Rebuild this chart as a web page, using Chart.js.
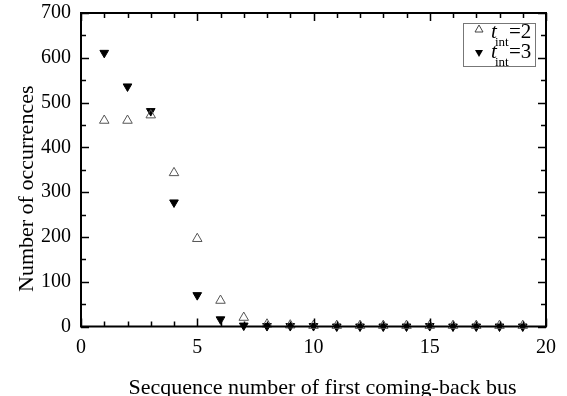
<!DOCTYPE html>
<html>
<head>
<meta charset="utf-8">
<script src="https://cdn.jsdelivr.net/npm/chart.js@4/dist/chart.umd.min.js"></script>
<style>
  html, body { margin: 0; padding: 0; background: #fff; }
  #wrap { width: 567px; height: 396px; }
</style>
</head>
<body>
<div id="wrap"><canvas id="chart"></canvas></div>
<script>
"use strict";

// sequence numbers 1..19
const seqNumbers = [1, 2, 3, 4, 5, 6, 7, 8, 9, 10, 11, 12, 13, 14, 15, 16, 17, 18, 19];
// t_int = 2
const countsInt2 = [460, 460, 472, 343, 196, 58, 20, 5, 3, 2, 2, 2, 2, 2, 2, 2, 2, 2, 2];
// t_int = 3
const countsInt3 = [611, 536, 481, 277, 70, 16, 2, 1, 1, 1, 0, 0, 0, 0, 1, 0, 0, 0, 0];
const legendNames = ['=2', '=3'];

const xTicks = [0, 5, 10, 15, 20];
const yTicks = [0, 100, 200, 300, 400, 500, 600, 700];

const xTitle = 'Secquence number of first coming-back bus';
const yTitle = 'Number of occurrences';

const serif = '"Liberation Serif", "Times New Roman", serif';

const toPoints = (vals) => seqNumbers.map((x, i) => ({x: x, y: vals[i]}));

// box + inward ticks on all four sides
const framePlugin = {
  id: 'frame',
  afterDraw(chart) {
    const {ctx, chartArea: a, scales} = chart;
    ctx.save();
    ctx.strokeStyle = '#000';
    ctx.lineWidth = 2;
    ctx.strokeRect(a.left, a.top, a.right - a.left, a.bottom - a.top);
    ctx.lineWidth = 1.5;
    ctx.beginPath();
    for (let v = 0; v <= 20; v++) {
      const px = Math.round(scales.x.getPixelForValue(v)) + 0.5;
      const len = v % 5 === 0 ? 8 : 5;
      ctx.moveTo(px, a.bottom); ctx.lineTo(px, a.bottom - len);
      ctx.moveTo(px, a.top); ctx.lineTo(px, a.top + len);
    }
    for (let v = 0; v <= 700; v += 50) {
      const py = Math.round(scales.y.getPixelForValue(v)) + 0.5;
      const len = v % 100 === 0 ? 8 : 5;
      ctx.moveTo(a.left, py); ctx.lineTo(a.left + len, py);
      ctx.moveTo(a.right, py); ctx.lineTo(a.right - len, py);
    }
    ctx.stroke();

    // axis titles (a bit off-centre, like the original layout)
    ctx.fillStyle = '#000';
    ctx.font = '22px ' + serif;
    ctx.textAlign = 'center';
    ctx.textBaseline = 'alphabetic';
    ctx.fillText(xTitle, (a.left + a.right) / 2 + 9, 394);
    ctx.translate(33, (a.top + a.bottom) / 2 + 19);
    ctx.rotate(-Math.PI / 2);
    ctx.fillText(yTitle, 0, 0);
    ctx.restore();
  }
};

// legend with subscripted t_int
const legendPlugin = {
  id: 'intLegend',
  afterDraw(chart) {
    const {ctx} = chart;
    const bx = 463, by = 23, bw = 72, bh = 43;
    ctx.save();
    ctx.fillStyle = '#fff';
    ctx.fillRect(bx, by, bw, bh);
    ctx.strokeStyle = '#777';
    ctx.lineWidth = 1;
    ctx.strokeRect(bx + 0.5, by + 0.5, bw, bh);

    const rows = [
      {y: 38, my: 29, marker: 'up'},
      {y: 58, my: 53, marker: 'down'}
    ];
    rows.forEach((r, i) => {
      const mx = 479, my = r.my;
      ctx.beginPath();
      if (r.marker === 'up') {
        ctx.moveTo(mx, my - 4); ctx.lineTo(mx + 4, my + 3); ctx.lineTo(mx - 4, my + 3);
        ctx.closePath();
        ctx.strokeStyle = '#444';
        ctx.lineWidth = 1;
        ctx.stroke();
      } else {
        ctx.moveTo(mx - 4, my - 3); ctx.lineTo(mx + 4, my - 3); ctx.lineTo(mx, my + 4);
        ctx.closePath();
        ctx.fillStyle = '#000';
        ctx.fill();
      }
      ctx.fillStyle = '#000';
      ctx.textBaseline = 'alphabetic';
      ctx.textAlign = 'left';
      ctx.font = 'italic 21px ' + serif;
      ctx.fillText('t', 491, r.y);
      ctx.font = '13px ' + serif;
      ctx.fillText('int', 495, r.y + 8);
      ctx.font = '21px ' + serif;
      ctx.fillText(legendNames[i], 509, r.y);
    });
    ctx.restore();
  }
};

new Chart(document.getElementById('chart'), {
  type: 'scatter',
  data: {
    datasets: [
      {
        label: 't_int=2',
        data: toPoints(countsInt2),
        pointStyle: 'triangle',
        pointRadius: 5.5,
        pointBackgroundColor: 'rgba(255,255,255,0)',
        pointBorderColor: '#555',
        pointBorderWidth: 1,
        clip: false
      },
      {
        label: 't_int=3',
        data: toPoints(countsInt3),
        pointStyle: 'triangle',
        pointRotation: 180,
        pointRadius: 5,
        pointBackgroundColor: '#000',
        pointBorderColor: '#000',
        pointBorderWidth: 1,
        clip: false
      }
    ]
  },
  options: {
    responsive: true,
    maintainAspectRatio: false,
    animation: false,
    layout: { padding: { left: 0, right: 21, top: 13, bottom: 0 } },
    plugins: {
      legend: { display: false },
      tooltip: { enabled: false }
    },
    scales: {
      x: {
        type: 'linear',
        min: 0,
        max: 20,
        afterBuildTicks: (s) => { s.ticks = xTicks.map((v) => ({value: v})); },
        afterFit: (s) => { s.height = 69.5; s.paddingLeft = 0; s.paddingRight = 0; },
        grid: { display: false, drawTicks: false },
        border: { display: false },
        ticks: {
          color: '#000',
          padding: 9,
          maxRotation: 0,
          font: { family: serif, size: 20 }
        },
        title: { display: false, text: xTitle }
      },
      y: {
        type: 'linear',
        min: 0,
        max: 700,
        afterBuildTicks: (s) => { s.ticks = yTicks.map((v) => ({value: v})); },
        // keep the label half-heights from pushing the plot area in
        afterFit: (s) => { s.width = 81; s.paddingTop = 0; s.paddingBottom = 0; },
        grid: { display: false, drawTicks: false },
        border: { display: false },
        ticks: {
          color: '#000',
          padding: 10,
          font: { family: serif, size: 20 }
        },
        title: { display: false, text: yTitle }
      }
    }
  },
  plugins: [framePlugin, legendPlugin]
});
</script>
</body>
</html>
